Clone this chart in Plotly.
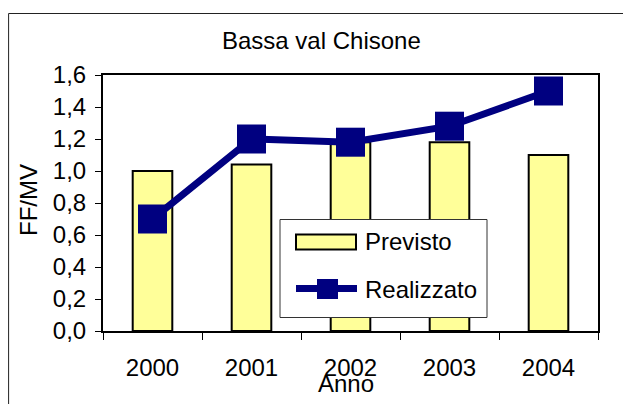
import plotly.graph_objects as go

years = ["2000", "2001", "2002", "2003", "2004"]
previsto = [1.00, 1.04, 1.18, 1.18, 1.10]
realizzato = [0.70, 1.20, 1.18, 1.28, 1.50]
title_text = "Bassa val Chisone"
y_title = "FF/MV"
x_title = "Anno"
series_names = ["Previsto", "Realizzato"]

FONT = "Arial, Liberation Sans, sans-serif"
NAVY = "#000080"
YELLOW = "#FFFF99"
FS = 24

fig = go.Figure()
fig.add_trace(go.Bar(
    x=years, y=previsto, name=series_names[0],
    marker=dict(color=YELLOW, line=dict(color="black", width=2)),
    width=0.4, showlegend=False,
))
fig.add_trace(go.Scatter(
    x=years, y=realizzato, name=series_names[1], mode="lines+markers",
    line=dict(color=NAVY, width=7),
    marker=dict(symbol="square", size=29, color=NAVY),
    showlegend=False,
))

# plot area in page pixels: x 103..598, y 75..331 (page has an 8px body margin)
def px_x(p):
    return (p - 103) / 495.0

def px_y(p):
    return (331 - p) / 256.0

shapes = [
    # outer chart-area frame (left and top visible)
    dict(type="rect", xref="paper", yref="paper",
         x0=px_x(8.6), x1=px_x(700), y0=px_y(600), y1=px_y(13.5),
         line=dict(color="#222222", width=1), fillcolor="rgba(0,0,0,0)", layer="below"),
    # legend box
    dict(type="rect", xref="paper", yref="paper",
         x0=px_x(280), x1=px_x(487), y0=px_y(317.5), y1=px_y(219.5),
         line=dict(color="#333333", width=1), fillcolor="white", layer="above"),
    # legend swatch for bars
    dict(type="rect", xref="paper", yref="paper",
         x0=px_x(296), x1=px_x(356), y0=px_y(249.5), y1=px_y(234.5),
         line=dict(color="black", width=2), fillcolor=YELLOW, layer="above"),
    # legend line sample
    dict(type="line", xref="paper", yref="paper",
         x0=px_x(296), x1=px_x(357), y0=px_y(288.5), y1=px_y(288.5),
         line=dict(color=NAVY, width=7), layer="above"),
    # legend marker sample
    dict(type="rect", xref="paper", yref="paper",
         x0=px_x(317), x1=px_x(338), y0=px_y(299), y1=px_y(279),
         line=dict(color=NAVY, width=0), fillcolor=NAVY, layer="above"),
]

annotations = [
    dict(text=title_text, xref="paper", yref="paper", x=px_x(321.5), y=px_y(40.5),
         xanchor="center", yanchor="middle", showarrow=False,
         font=dict(family=FONT, size=FS, color="black")),
    dict(text=y_title, xref="paper", yref="paper", x=px_x(28), y=px_y(200),
         xanchor="center", yanchor="middle", textangle=-90, showarrow=False,
         font=dict(family=FONT, size=FS, color="black")),
    dict(text=x_title, xref="paper", yref="paper", x=px_x(346), y=px_y(383),
         xanchor="center", yanchor="middle", showarrow=False,
         font=dict(family=FONT, size=FS, color="black")),
    dict(text=series_names[0], xref="paper", yref="paper", x=px_x(363), y=px_y(241.5),
         xanchor="left", yanchor="middle", showarrow=False,
         font=dict(family=FONT, size=FS, color="black")),
    dict(text=series_names[1], xref="paper", yref="paper", x=px_x(363), y=px_y(289),
         xanchor="left", yanchor="middle", showarrow=False,
         font=dict(family=FONT, size=FS, color="black")),
]

fig.update_layout(
    width=623, height=396,
    margin=dict(l=95, r=33, t=67, b=73, pad=0),
    paper_bgcolor="white", plot_bgcolor="white",
    separators=",.",
    showlegend=False,
    shapes=shapes,
    annotations=annotations,
    font=dict(family=FONT, size=FS, color="black"),
    xaxis=dict(
        type="category", range=[-0.5, 4.5],
        showline=True, linecolor="black", linewidth=2, mirror=True,
        ticks="outside", tickson="boundaries", ticklen=7, tickcolor="black", tickwidth=1,
        ticklabelstandoff=14,
        showgrid=False, zeroline=False,
        tickfont=dict(family=FONT, size=FS, color="black"),
    ),
    yaxis=dict(
        range=[0, 1.6], dtick=0.2, tick0=0, tickformat=".1f",
        showline=True, linecolor="black", linewidth=2, mirror=True,
        ticks="outside", ticklen=6, tickcolor="black", tickwidth=1,
        ticklabelstandoff=4,
        showgrid=False, zeroline=False,
        tickfont=dict(family=FONT, size=FS, color="black"),
    ),
)

fig.write_html("out.html")
